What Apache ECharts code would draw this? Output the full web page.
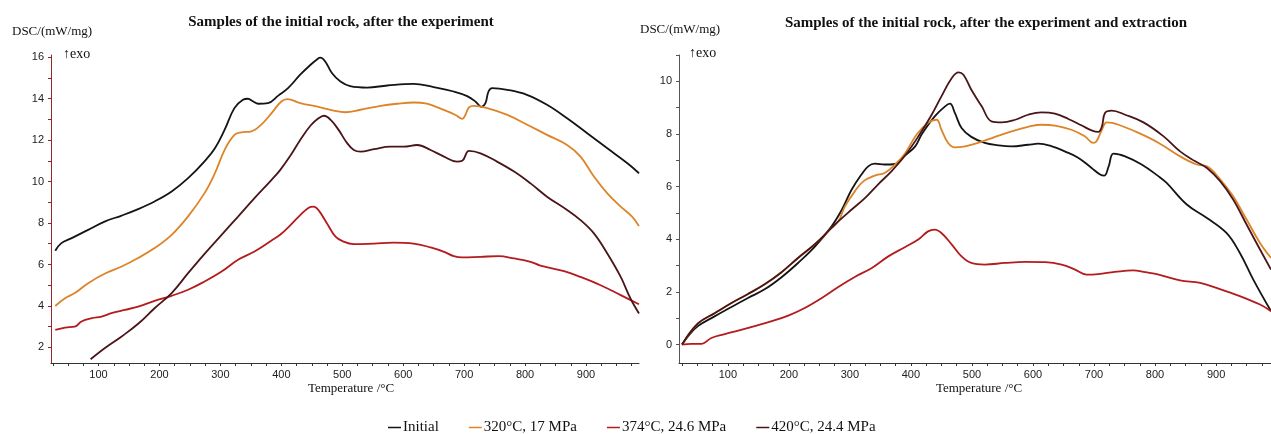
<!DOCTYPE html>
<html><head><meta charset="utf-8">
<script src="https://cdn.jsdelivr.net/npm/echarts@6/dist/echarts.min.js"></script>
<style>html,body{margin:0;padding:0;background:#fff}#c{width:1271px;height:434px}</style>
</head><body><div id="c"></div>
<script>
// ---------- data (temperature °C, DSC mW/mg) ----------
const seriesNames = ['Initial', '320°C, 17 MPa', '374°C, 24.6 MPa', '420°C, 24.4 MPa'];

// Left panel: after the experiment
const leftInitial = [[29,6.66],[39,7.03],[56,7.27],[83,7.67],[110,8.07],[138,8.36],[165,8.67],[192,9.04],[220,9.52],[247,10.16],[274,10.97],[291,11.6],[307,12.5],[323,13.54],[337,13.94],[345,13.99],[354,13.86],[362,13.75],[378,13.78],[395,14.14],[411,14.5],[431,15.15],[448,15.63],[459,15.9],[464,15.97],[472,15.79],[483,15.23],[497,14.82],[513,14.6],[541,14.53],[574,14.63],[617,14.71],[650,14.55],[683,14.34],[705,14.12],[719,13.85],[728,13.6],[735,13.78],[740,14.34],[746,14.5],[771,14.42],[803,14.18],[836,13.7],[869,13.05],[902,12.33],[935,11.6],[968,10.88],[987,10.4]];
const left320 = [[29,4.0],[45,4.37],[61,4.62],[83,5.1],[110,5.55],[138,5.9],[165,6.31],[192,6.79],[220,7.43],[247,8.32],[274,9.44],[291,10.4],[307,11.53],[323,12.25],[334,12.37],[351,12.42],[367,12.74],[384,13.3],[400,13.86],[410,13.97],[431,13.78],[464,13.58],[486,13.42],[505,13.34],[530,13.46],[563,13.65],[590,13.75],[617,13.81],[639,13.75],[664,13.48],[686,13.21],[697,13.02],[702,13.21],[708,13.58],[716,13.65],[738,13.54],[771,13.21],[806,12.7],[836,12.25],[869,11.76],[891,11.2],[913,10.24],[935,9.43],[957,8.79],[976,8.3],[987,7.85]];
const left374 = [[29,2.85],[45,2.96],[61,3.0],[72,3.25],[89,3.41],[105,3.49],[121,3.65],[143,3.81],[165,3.97],[192,4.25],[220,4.49],[247,4.78],[274,5.18],[302,5.66],[329,6.23],[356,6.63],[384,7.16],[398,7.43],[415,7.9],[431,8.38],[445,8.74],[453,8.79],[461,8.62],[475,7.98],[489,7.34],[502,7.1],[519,6.98],[552,7.01],[584,7.05],[617,7.01],[645,6.82],[667,6.61],[683,6.4],[697,6.34],[727,6.37],[757,6.4],[782,6.29],[809,6.13],[825,5.95],[864,5.68],[891,5.4],[924,5.0],[957,4.52],[987,4.08]];
const left420 = [[87,1.43],[110,1.96],[138,2.53],[165,3.14],[192,3.89],[220,4.62],[247,5.58],[274,6.51],[302,7.43],[329,8.31],[356,9.2],[384,10.08],[398,10.55],[415,11.25],[431,12.0],[448,12.7],[461,13.05],[470,13.17],[481,12.97],[494,12.49],[508,11.85],[519,11.52],[530,11.44],[552,11.56],[579,11.68],[601,11.68],[623,11.76],[645,11.52],[667,11.2],[688,10.96],[697,11.0],[708,11.48],[727,11.36],[754,10.96],[782,10.48],[809,9.91],[836,9.27],[869,8.63],[891,8.14],[913,7.5],[935,6.53],[957,5.4],[973,4.36],[987,3.64]];

// Right panel: after the experiment and extraction
const rightInitial = [[25,0],[35,0.32],[51,0.7],[79,1.08],[106,1.43],[133,1.77],[161,2.11],[188,2.56],[215,3.1],[243,3.73],[270,4.49],[287,5.13],[303,5.89],[319,6.46],[330,6.77],[341,6.87],[357,6.84],[374,6.86],[390,7.18],[407,7.53],[418,8.0],[439,8.67],[456,9.05],[464,9.15],[472,8.8],[483,8.23],[499,7.89],[521,7.66],[543,7.57],[565,7.53],[592,7.59],[609,7.63],[631,7.53],[652,7.34],[674,7.1],[696,6.71],[710,6.46],[717,6.42],[724,6.77],[732,7.25],[751,7.15],[778,6.84],[806,6.39],[819,6.14],[852,5.32],[885,4.81],[917,4.24],[939,3.48],[961,2.47],[990,1.27]];
const right320 = [[25,0],[51,0.8],[79,1.2],[106,1.58],[133,1.92],[161,2.3],[188,2.75],[215,3.29],[243,3.82],[270,4.43],[281,4.68],[292,5.25],[308,5.82],[322,6.2],[341,6.42],[357,6.52],[374,6.84],[390,7.25],[410,8.0],[428,8.42],[442,8.54],[450,8.16],[461,7.66],[472,7.49],[489,7.53],[510,7.66],[538,7.89],[565,8.1],[592,8.27],[614,8.35],[636,8.32],[663,8.16],[685,7.91],[699,7.66],[704,7.72],[713,8.16],[721,8.44],[740,8.35],[773,8.04],[806,7.66],[841,7.15],[868,6.84],[885,6.77],[907,6.27],[928,5.63],[950,4.75],[972,3.86],[990,3.29]];
const right374 = [[25,0],[40,0.03],[57,0.03],[73,0.25],[95,0.4],[117,0.53],[144,0.7],[172,0.89],[199,1.1],[226,1.39],[254,1.77],[281,2.19],[308,2.57],[336,2.91],[363,3.35],[390,3.7],[412,3.99],[428,4.3],[439,4.37],[450,4.24],[467,3.8],[483,3.35],[499,3.1],[521,3.04],[554,3.1],[587,3.14],[620,3.13],[647,3.04],[669,2.85],[688,2.66],[707,2.68],[734,2.76],[764,2.82],[784,2.75],[806,2.66],[841,2.44],[874,2.34],[906,2.11],[939,1.84],[972,1.52],[990,1.27]];
const right420 = [[25,0],[51,0.8],[79,1.2],[106,1.58],[133,1.92],[161,2.3],[188,2.75],[215,3.29],[243,3.82],[270,4.43],[281,4.68],[303,5.13],[325,5.57],[346,6.08],[368,6.58],[390,7.17],[412,7.9],[434,8.73],[450,9.43],[467,10.13],[478,10.34],[486,10.25],[499,9.68],[516,9.05],[532,8.48],[549,8.44],[571,8.54],[592,8.73],[614,8.82],[636,8.77],[658,8.57],[680,8.32],[696,8.14],[707,8.08],[713,8.29],[718,8.8],[729,8.89],[751,8.73],[781,8.44],[814,7.91],[841,7.34],[866,6.96],[885,6.71],[907,6.2],[928,5.51],[950,4.56],[972,3.61],[990,2.85]];

// ticks
const xTickValues = [25,50,75,100,125,150,175,200,225,250,275,300,325,350,375,400,425,450,475,500,525,550,575,600,625,650,675,700,725,750,775,800,825,850,875,900,925,950,975];
const xLabelValues = [100,200,300,400,500,600,700,800,900];
const leftYTickValues = [2,3,4,5,6,7,8,9,10,11,12,13,14,15,16];
const leftYLabelValues = [2,4,6,8,10,12,14,16];
const rightYTickValues = [0,1,2,3,4,5,6,7,8,9,10,11];
const rightYLabelValues = [0,2,4,6,8,10];

const titles = ['Samples of the initial rock, after the experiment', 'Samples of the initial rock, after the experiment and extraction'];
const yName = 'DSC/(mW/mg)';
const exoLabel = '↑exo';
const xName = 'Temperature /°C';

// ---------- chart ----------
const colors = ['#141414', '#DC8427', '#B31B1E', '#4A1518'];
const serif = '"Liberation Serif", "Times New Roman", serif';
const sans = '"Liberation Sans", Arial, sans-serif';

function xAxisCfg(gridIndex, min, max) {
  return {
    type: 'value', gridIndex, min, max,
    axisLine: { show: true, onZero: false, lineStyle: { color: '#333', width: 1 } },
    axisTick: { show: true, length: 3, customValues: xTickValues, lineStyle: { color: '#333' } },
    axisLabel: { customValues: xLabelValues, fontFamily: sans, fontSize: 11, color: '#222', margin: 6 },
    splitLine: { show: false }
  };
}
function yAxisCfg(gridIndex, min, max, ticks, labels, color) {
  return {
    type: 'value', gridIndex, min, max,
    axisLine: { show: true, onZero: false, lineStyle: { color, width: 1 } },
    axisTick: { show: true, length: 3, customValues: ticks, lineStyle: { color } },
    axisLabel: { customValues: labels, fontFamily: sans, fontSize: 11, color: '#222', margin: 7 },
    splitLine: { show: false }
  };
}
function line(name, data, idx, axis) {
  return {
    type: 'line', name, data, xAxisIndex: axis, yAxisIndex: axis,
    showSymbol: false, symbol: 'none', smooth: 0.4,
    lineStyle: { color: colors[idx], width: 1.8 }, itemStyle: { color: colors[idx] },
    emphasis: { disabled: true }
  };
}
function txt(text, x, y, opts) {
  return Object.assign({ type: 'text', x, y, silent: true, style: Object.assign({
    text, fill: '#111', font: '13px ' + serif, textAlign: 'left', textVerticalAlign: 'middle', align: 'left', verticalAlign: 'middle'
  }, opts || {}) });
}

const chart = echarts.init(document.getElementById('c'), null, { renderer: 'canvas' });
chart.setOption({
  animation: false,
  backgroundColor: '#fff',
  grid: [
    { left: 51, top: 55, width: 588, height: 308 },
    { left: 679, top: 55, width: 592, height: 308 }
  ],
  xAxis: [xAxisCfg(0, 22, 987), xAxisCfg(1, 20, 990)],
  yAxis: [
    yAxisCfg(0, 1.25, 16.1, leftYTickValues, leftYLabelValues, '#8E2A2A'),
    yAxisCfg(1, -0.7, 11, rightYTickValues, rightYLabelValues, '#555')
  ],
  legend: {
    data: seriesNames, left: 383, top: 415, icon: 'rect', itemWidth: 13, itemHeight: 1.5, itemGap: 30,
    textStyle: { fontFamily: serif, fontSize: 15, color: '#111', padding: [0, 0, 0, -3] },
    selectedMode: false
  },
  series: [
    line(seriesNames[0], leftInitial, 0, 0),
    line(seriesNames[1], left320, 1, 0),
    line(seriesNames[2], left374, 2, 0),
    line(seriesNames[3], left420, 3, 0),
    line(seriesNames[0], rightInitial, 0, 1),
    line(seriesNames[1], right320, 1, 1),
    line(seriesNames[2], right374, 2, 1),
    line(seriesNames[3], right420, 3, 1)
  ],
  graphic: [
    txt(titles[0], 341, 22, { font: 'bold 15px ' + serif, textAlign: 'center', align: 'center' }),
    txt(titles[1], 986, 23, { font: 'bold 15px ' + serif, textAlign: 'center', align: 'center' }),
    txt(yName, 12, 32),
    txt(yName, 640, 30),
    txt(exoLabel, 63, 54, { font: '14px ' + serif }),
    txt(exoLabel, 689, 53, { font: '14px ' + serif }),
    txt(xName, 351, 389, { textAlign: 'center', align: 'center' }),
    txt(xName, 979, 389, { textAlign: 'center', align: 'center' })
  ]
});
</script>
</body></html>
